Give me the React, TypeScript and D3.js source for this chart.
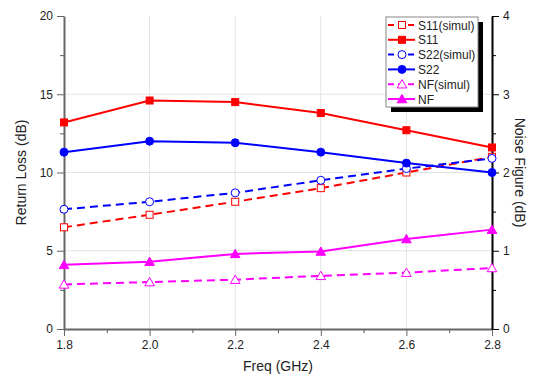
import { useEffect, useRef } from "react";
import * as d3 from "d3";

const freqs = [1.8, 2.0, 2.2, 2.4, 2.6, 2.8];
const s11Simul = [6.5, 7.3, 8.13, 9.0, 10.0, 11.0];
const s11 = [13.2, 14.6, 14.5, 13.8, 12.7, 11.6];
const s22Simul = [7.65, 8.13, 8.7, 9.5, 10.25, 10.9];
const s22 = [11.3, 12.0, 11.9, 11.3, 10.6, 10.0];
const nfSimul = [0.57, 0.6, 0.63, 0.68, 0.72, 0.78];
const nf = [0.82, 0.86, 0.96, 0.99, 1.15, 1.27];

const xTicks = [1.8, 2.0, 2.2, 2.4, 2.6, 2.8];
const leftTicks = [0, 5, 10, 15, 20];
const rightTicks = [0, 1, 2, 3, 4];

type Series = {
  name: string;
  values: number[];
  axis: "left" | "right";
  color: string;
  dashed: boolean;
  marker: "square" | "circle" | "triangle";
  filled: boolean;
};

const series: Series[] = [
  { name: "S11(simul)", values: s11Simul, axis: "left", color: "#ff0000", dashed: true, marker: "square", filled: false },
  { name: "S11", values: s11, axis: "left", color: "#ff0000", dashed: false, marker: "square", filled: true },
  { name: "S22(simul)", values: s22Simul, axis: "left", color: "#0000ff", dashed: true, marker: "circle", filled: false },
  { name: "S22", values: s22, axis: "left", color: "#0000ff", dashed: false, marker: "circle", filled: true },
  { name: "NF(simul)", values: nfSimul, axis: "right", color: "#ff00ff", dashed: true, marker: "triangle", filled: false },
  { name: "NF", values: nf, axis: "right", color: "#ff00ff", dashed: false, marker: "triangle", filled: true },
];

export default function App() {
  const svgRef = useRef<SVGSVGElement | null>(null);

  useEffect(() => {
    if (!svgRef.current) return;
    const width = 541;
    const height = 383;
    const margin = { top: 16, right: 49, bottom: 54, left: 64 };
    const w = width - margin.left - margin.right;
    const h = height - margin.top - margin.bottom;
    const font = "Arial, 'Liberation Sans', sans-serif";

    const svg = d3.select(svgRef.current);
    svg.selectAll("*").remove();
    svg.attr("width", width).attr("height", height);
    svg.append("rect").attr("width", width).attr("height", height).attr("fill", "#fff");

    const g = svg.append("g").attr("transform", `translate(${margin.left},${margin.top})`);

    const x = d3.scaleLinear().domain([1.8, 2.8]).range([0, w]);
    const yL = d3.scaleLinear().domain([0, 20]).range([h, 0]);
    const yR = d3.scaleLinear().domain([0, 4]).range([h, 0]);

    // grid
    g.selectAll("line.gx")
      .data(xTicks.slice(1, -1))
      .enter()
      .append("line")
      .attr("x1", d => x(d)).attr("x2", d => x(d))
      .attr("y1", 0).attr("y2", h)
      .attr("stroke", "#e3e3e3").attr("stroke-width", 1);
    g.selectAll("line.gy")
      .data(leftTicks.slice(1, -1))
      .enter()
      .append("line")
      .attr("x1", 0).attr("x2", w)
      .attr("y1", d => yL(d)).attr("y2", d => yL(d))
      .attr("stroke", "#e3e3e3").attr("stroke-width", 1);

    const styleAxis = (sel: d3.Selection<SVGGElement, unknown, null, undefined>, color: string) => {
      sel.select(".domain").attr("stroke", color).attr("stroke-width", 2);
      sel.selectAll(".tick line").attr("stroke", color).attr("stroke-width", 1);
      sel.selectAll(".tick text").attr("font-family", font).attr("font-size", 12).attr("fill", "#222");
    };

    // minor ticks
    const xMinor = d3.range(1.9, 2.8, 0.2);
    const xa = g.append("g").attr("transform", `translate(0,${h})`);
    xa.call(d3.axisBottom(x).tickValues(xMinor).tickSize(4).tickFormat(() => "").tickSizeOuter(0));
    xa.select(".domain").remove();
    xa.selectAll("line").attr("stroke", "#555");
    const ylm = g.append("g");
    ylm.call(d3.axisLeft(yL).tickValues([2.5, 7.5, 12.5, 17.5]).tickSize(4).tickFormat(() => "").tickSizeOuter(0));
    ylm.select(".domain").remove();
    ylm.selectAll("line").attr("stroke", "#555");
    const yrm = g.append("g").attr("transform", `translate(${w},0)`);
    yrm.call(d3.axisRight(yR).tickValues([0.5, 1.5, 2.5, 3.5]).tickSize(4).tickFormat(() => "").tickSizeOuter(0));
    yrm.select(".domain").remove();
    yrm.selectAll("line").attr("stroke", "#000");

    const xAxis = g.append("g").attr("transform", `translate(0,${h})`)
      .call(d3.axisBottom(x).tickValues(xTicks).tickSize(7).tickSizeOuter(0).tickPadding(4).tickFormat(d3.format(".1f")));
    styleAxis(xAxis, "#666");

    const leftAxis = g.append("g")
      .call(d3.axisLeft(yL).tickValues(leftTicks).tickSize(7).tickSizeOuter(0).tickPadding(4).tickFormat(d3.format("d")));
    styleAxis(leftAxis, "#666");

    const rightAxis = g.append("g").attr("transform", `translate(${w},0)`)
      .call(d3.axisRight(yR).tickValues(rightTicks).tickSize(7).tickSizeOuter(0).tickPadding(4).tickFormat(d3.format("d")));
    styleAxis(rightAxis, "#000");

    // axis titles
    svg.append("text")
      .attr("x", margin.left + w / 2).attr("y", height - 12)
      .attr("text-anchor", "middle").attr("font-family", font).attr("font-size", 14)
      .attr("fill", "#222").text("Freq (GHz)");
    svg.append("text")
      .attr("transform", `translate(26,${margin.top + h / 2}) rotate(-90)`)
      .attr("text-anchor", "middle").attr("font-family", font).attr("font-size", 14)
      .attr("fill", "#222").text("Return Loss (dB)");
    svg.append("text")
      .attr("transform", `translate(${width - 26},${margin.top + h / 2}) rotate(90)`)
      .attr("text-anchor", "middle").attr("font-family", font).attr("font-size", 14)
      .attr("fill", "#222").text("Noise Figure (dB)");

    const drawMarker = (
      parent: d3.Selection<SVGGElement, unknown, null, undefined>,
      s: Series,
      cx: number,
      cy: number
    ) => {
      const fill = s.filled ? s.color : "#fff";
      if (s.marker === "square") {
        parent.append("rect").attr("x", cx - 3.5).attr("y", cy - 3.5).attr("width", 7).attr("height", 7)
          .attr("fill", fill).attr("stroke", s.color).attr("stroke-width", 1);
      } else if (s.marker === "circle") {
        parent.append("circle").attr("cx", cx).attr("cy", cy).attr("r", 4)
          .attr("fill", fill).attr("stroke", s.color).attr("stroke-width", 1);
      } else {
        const sym = d3.symbol().type(d3.symbolTriangle).size(40);
        parent.append("path").attr("d", sym()!).attr("transform", `translate(${cx},${cy + 1})`)
          .attr("fill", fill).attr("stroke", s.color).attr("stroke-width", 1);
      }
    };

    const plot = g.append("g");
    series.forEach(s => {
      const yScale = s.axis === "left" ? yL : yR;
      const line = d3.line<number>()
        .x((_, i) => x(freqs[i]))
        .y(d => yScale(d));
      plot.append("path")
        .attr("d", line(s.values)!)
        .attr("fill", "none")
        .attr("stroke", s.color)
        .attr("stroke-width", 2)
        .attr("stroke-dasharray", s.dashed ? "8,5" : null);
      const mg = plot.append("g");
      s.values.forEach((v, i) => drawMarker(mg, s, x(freqs[i]), yScale(v)));
    });

    // legend
    const lx = 386;
    const ly = 17;
    const lw = 92;
    const lh = 90;
    svg.append("rect").attr("x", lx + 5).attr("y", ly + 5).attr("width", lw).attr("height", lh).attr("fill", "#000");
    svg.append("rect").attr("x", lx).attr("y", ly).attr("width", lw).attr("height", lh)
      .attr("fill", "#fff").attr("stroke", "#888").attr("stroke-width", 1);
    const lg = svg.append("g") as unknown as d3.Selection<SVGGElement, unknown, null, undefined>;
    series.forEach((s, i) => {
      const cy = ly + 8 + i * 14.8;
      lg.append("line")
        .attr("x1", lx + 2).attr("x2", lx + 29).attr("y1", cy).attr("y2", cy)
        .attr("stroke", s.color).attr("stroke-width", 2)
        .attr("stroke-dasharray", s.dashed ? "6,4" : null);
      drawMarker(lg, s, lx + 16, cy);
      lg.append("text")
        .attr("x", lx + 32).attr("y", cy + 4.5)
        .attr("font-family", font).attr("font-size", 12).attr("fill", "#222")
        .text(s.name);
    });
  }, []);

  return <svg ref={svgRef} style={{ display: "block", position: "absolute", left: 0, top: 0 }} />;
}
